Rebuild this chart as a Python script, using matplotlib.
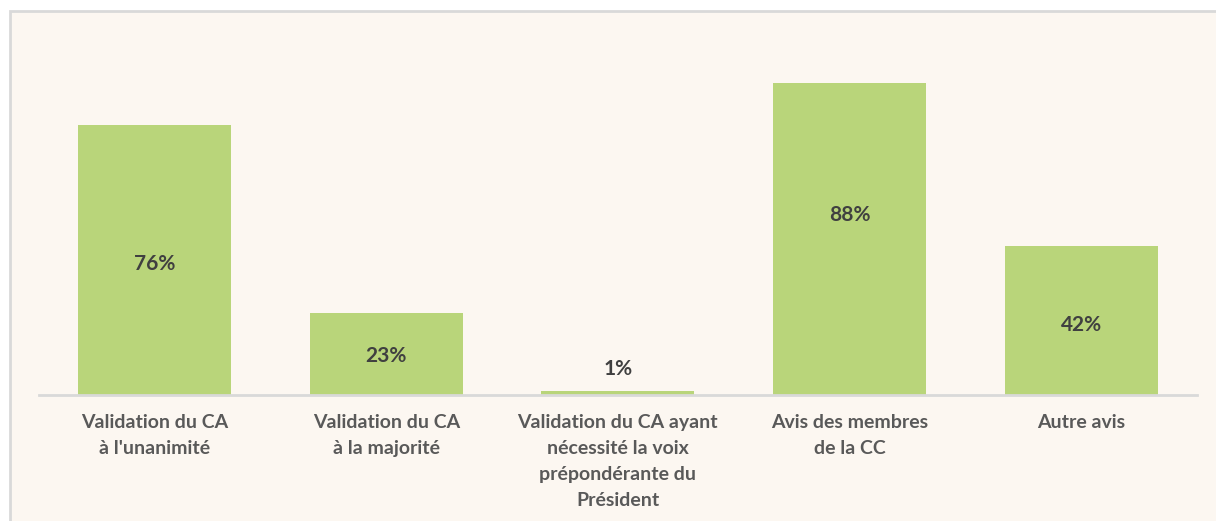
import matplotlib
matplotlib.use("Agg")
import matplotlib.pyplot as plt
from matplotlib.patches import Rectangle

categories = [
    "Validation du CA\nà l'unanimité",
    "Validation du CA\nà la majorité",
    "Validation du CA ayant\nnécessité la voix\nprépondérante du\nPrésident",
    "Avis des membres\nde la CC",
    "Autre avis",
]
values = [76, 23, 1, 88, 42]
value_labels = ["76%", "23%", "1%", "88%", "42%"]

W, H = 1216, 521
fig = plt.figure(figsize=(W / 100, H / 100), dpi=100, facecolor="white")

# chart area background with border on top/left
bg = Rectangle((10 / W, -0.1), 1.2, 1.1 - 11 / H, transform=fig.transFigure,
               facecolor="#FCF7F1", edgecolor="#D9D9D9", linewidth=2, zorder=-10)
fig.patches.append(bg)

ax = fig.add_axes([38.7 / W, 126 / H, (1197 - 38.7) / W, 355 / H])
ax.set_zorder(1)
ax.set_facecolor("none")
x = list(range(len(categories)))
bars = ax.bar(x, values, width=0.66, color="#B9D57A", zorder=2)
ax.set_xlim(-0.5, len(categories) - 0.5)
ax.set_ylim(0, 100)

# label vertical nudges (points), as placed in the original chart
nudges = [-3, -1, 0, 17, -3]
for xi, v, lab, dy in zip(x, values, value_labels, nudges):
    if v < 8:
        ax.annotate(lab, (xi, v), xytext=(0, 9), textcoords="offset points",
                    ha="center", va="bottom", fontsize=15, fontweight="bold",
                    color="#404040", family="Lato")
    else:
        ax.annotate(lab, (xi, v / 2), xytext=(0, dy), textcoords="offset points",
                    ha="center", va="center", fontsize=15,
                    fontweight="bold", color="#404040", family="Lato")

for s in ["top", "right", "left"]:
    ax.spines[s].set_visible(False)
ax.spines["bottom"].set_color("#D9D9D9")
ax.spines["bottom"].set_linewidth(2)
ax.set_yticks([])
ax.set_xticks(x)
ax.set_xticklabels(categories, fontsize=14, fontweight="bold", color="#595959",
                   family="Lato", linespacing=1.66)
ax.tick_params(axis="x", length=0, pad=13.5)

fig.savefig("out.png", dpi=100, facecolor="white")
